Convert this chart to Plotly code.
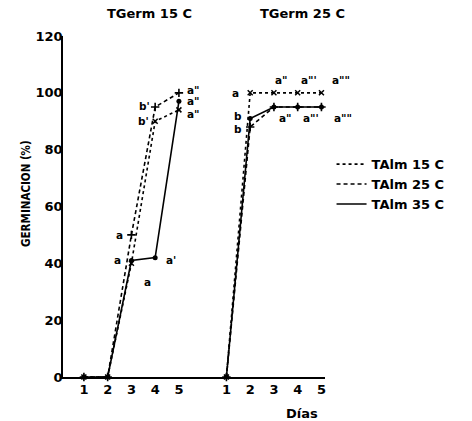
import plotly.graph_objects as go

# Days of the germination test and their tick labels
days = [1, 2, 3, 4, 5]
day_labels = ["1", "2", "3", "4", "5"]

# Germination (%) at germination temperature 15 C, per storage temperature
g15_talm15 = [0, 0, 40, 90, 94]
g15_talm25 = [0, 0, 50, 95, 100]
g15_talm35 = [0, 0, 41, 42, 97]

# Germination (%) at germination temperature 25 C, per storage temperature
g25_talm15 = [0, 100, 100, 100, 100]
g25_talm25 = [0, 88, 95, 95, 95]
g25_talm35 = [0, 91, 95, 95, 95]

# Significance letters next to each point ("" = no letter)
lab15_talm15 = ["", "", "a", "b'", 'a"']
lab15_talm25 = ["", "", "a", "b'", 'a"']
lab15_talm35 = ["", "", "a", "a'", 'a"']
lab25_talm15 = ["", "a", 'a"', 'a"\'', 'a""']
lab25_talm25 = ["", "b", "", "", ""]
lab25_talm35 = ["", "b", 'a"', 'a"\'', 'a""']

series_names = ["TAlm 15 C", "TAlm 25 C", "TAlm 35 C"]
panel_titles = ["TGerm 15 C", "TGerm 25 C"]

# ---- layout constants -------------------------------------------------
PANEL_GAP = 6          # x offset of the second panel on the shared axis
BOLD = dict(family="DejaVu Sans, Verdana, sans-serif", size=13, color="black", weight="bold")
LBL = dict(family="DejaVu Sans, Verdana, sans-serif", size=10.5, color="black", weight="bold")

styles = {
    "TAlm 15 C": dict(line=dict(color="black", width=1.6, dash="dot"),
                      marker=dict(symbol="x-thin", size=5, line=dict(color="black", width=1.5))),
    "TAlm 25 C": dict(line=dict(color="black", width=1.6, dash="4px,3px"),
                      marker=dict(symbol="cross-thin", size=6, line=dict(color="black", width=1.6))),
    "TAlm 35 C": dict(line=dict(color="black", width=1.6, dash="solid"),
                      marker=dict(symbol="circle", size=5, color="black")),
}

# label offsets in pixels (xshift, yshift) for each point
offsets = {
    (0, "TAlm 15 C"): [(0, 0), (0, 0), (16, -19), (-12, 0), (15, -4)],
    (0, "TAlm 25 C"): [(0, 0), (0, 0), (-12, 0), (-11, 1), (15, 3)],
    (0, "TAlm 35 C"): [(0, 0), (0, 0), (-14, 0), (16, -2), (15, 0)],
    (1, "TAlm 15 C"): [(0, 0), (-15, 0), (8, 13), (11, 13), (20, 13)],
    (1, "TAlm 25 C"): [(0, 0), (-12, -2), (0, 0), (0, 0), (0, 0)],
    (1, "TAlm 35 C"): [(0, 0), (-12, 2), (12, -11), (13, -11), (22, -11)],
}

panels = [
    {"TAlm 15 C": (g15_talm15, lab15_talm15),
     "TAlm 25 C": (g15_talm25, lab15_talm25),
     "TAlm 35 C": (g15_talm35, lab15_talm35)},
    {"TAlm 15 C": (g25_talm15, lab25_talm15),
     "TAlm 25 C": (g25_talm25, lab25_talm25),
     "TAlm 35 C": (g25_talm35, lab25_talm35)},
]

fig = go.Figure()
annotations = []

for p, panel in enumerate(panels):
    xs = [d + p * PANEL_GAP for d in days]
    for name in series_names:
        vals, labels = panel[name]
        st = styles[name]
        fig.add_trace(go.Scatter(
            x=xs, y=vals, mode="lines+markers", name=name,
            line=st["line"], marker=st["marker"],
            showlegend=False, cliponaxis=False, hoverinfo="skip",
        ))
        for i, (xv, yv, txt) in enumerate(zip(xs, vals, labels)):
            if txt:
                dx, dy = offsets[(p, name)][i]
                annotations.append(dict(
                    x=xv, y=yv, xref="x", yref="y", text=txt, showarrow=False,
                    xshift=dx, yshift=dy, font=LBL,
                    xanchor="center", yanchor="middle",
                ))

# legend entries drawn as plain line samples
for name in series_names:
    fig.add_trace(go.Scatter(
        x=[None], y=[None], mode="lines", name=name,
        line=styles[name]["line"], showlegend=True,
    ))

# panel titles
for p, title in enumerate(panel_titles):
    annotations.append(dict(
        x=[0.332, 0.916][p], y=1.067, xref="paper", yref="paper",
        text=title, showarrow=False, font=BOLD,
        xanchor="center", yanchor="middle",
    ))

# axis titles
annotations.append(dict(
    x=-0.141, y=0.537, xref="paper", yref="paper", text="GERMINACION (%)",
    showarrow=False, textangle=-90,
    font=dict(family="Liberation Sans Narrow, DejaVu Sans Condensed, Arial Narrow, Liberation Sans",
              size=11.5, color="black", weight="bold"),
    xanchor="center", yanchor="middle",
))
annotations.append(dict(
    x=0.912, y=-0.106, xref="paper", yref="paper", text="Días",
    showarrow=False, font=BOLD, xanchor="center", yanchor="middle",
))

tickvals = [d + p * PANEL_GAP for p in range(len(panels)) for d in days]
ticktext = day_labels * len(panels)

fig.update_layout(
    width=472, height=421,
    margin=dict(l=63, r=147, t=36, b=44),
    paper_bgcolor="white", plot_bgcolor="white",
    showlegend=True,
    legend=dict(x=1.025, xanchor="left", y=0.668, yanchor="top",
                font=BOLD, bgcolor="rgba(0,0,0,0)", tracegroupgap=0,
                itemwidth=30),
    xaxis=dict(range=[0.12, 11.15], tickvals=tickvals, ticktext=ticktext,
               showgrid=False, zeroline=False, showline=True,
               linecolor="black", linewidth=1.6, ticks="",
               tickfont=BOLD),
    yaxis=dict(range=[0, 120], tickvals=[0, 20, 40, 60, 80, 100, 120],
               showgrid=False, zeroline=False, showline=True,
               linecolor="black", linewidth=1.6, ticks="",
               ticklabelstandoff=-4, tickfont=BOLD),
    annotations=annotations,
)

fig.write_html("out.html")
